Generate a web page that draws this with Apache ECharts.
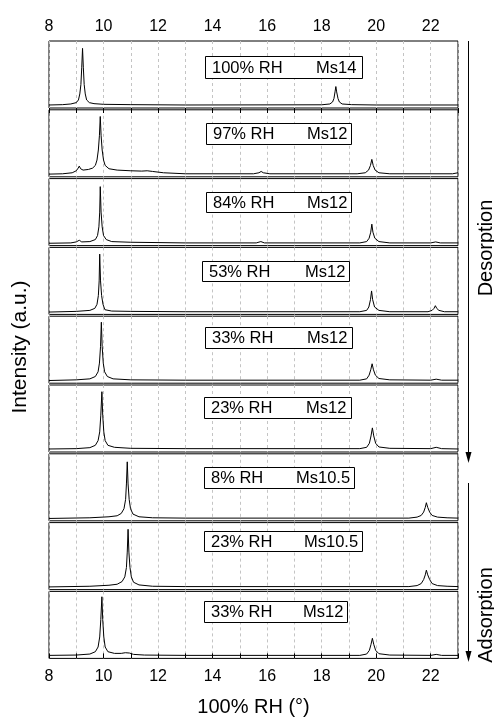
<!DOCTYPE html>
<html>
<head>
<meta charset="utf-8">
<script src="https://cdn.jsdelivr.net/npm/echarts@6/dist/echarts.min.js"></script>
<style>
  html, body { margin: 0; padding: 0; background: #fff; }
  #chart { width: 494px; height: 718px; }
</style>
</head>
<body>
<div id="chart"></div>
<script>
// panel labels, top to bottom
var rhLabels = ['100% RH', '97% RH', '84% RH', '53% RH', '33% RH', '23% RH', '8% RH', '23% RH', '33% RH'];
var msLabels = ['Ms14', 'Ms12', 'Ms12', 'Ms12', 'Ms12', 'Ms12', 'Ms10.5', 'Ms10.5', 'Ms12'];
var xTickLabels = [8, 10, 12, 14, 16, 18, 20, 22];

// traces: [2theta, intensity (0-100 of panel height)]
var p100 = [[8, 4.5], [8.5, 5], [8.8, 6], [9.0, 8], [9.08, 12], [9.13, 21], [9.17, 35], [9.2, 60], [9.23, 89], [9.26, 60], [9.29, 35], [9.33, 21], [9.38, 12], [9.48, 8], [9.65, 6.5], [10, 5.5], [11, 5], [13, 4.5], [18.0, 4.8], [18.3, 6], [18.4, 9], [18.45, 14], [18.49, 24], [18.52, 32], [18.55, 24], [18.6, 14], [18.65, 9], [18.75, 6], [19.1, 5], [20, 4.5], [23, 4.5]];
var p97 = [[8, 4], [8.5, 4.5], [8.85, 6], [9.0, 9], [9.07, 13], [9.11, 16], [9.16, 12], [9.25, 10], [9.45, 11], [9.6, 13], [9.7, 17], [9.76, 25], [9.81, 40], [9.85, 62], [9.88, 90], [9.91, 62], [9.95, 40], [10.0, 25], [10.06, 17], [10.2, 12], [10.5, 10], [11.0, 9], [11.4, 8.5], [11.6, 9], [11.8, 8], [12.2, 6], [13, 4.5], [15.5, 4.5], [15.7, 6], [15.78, 8], [15.86, 6], [16.1, 4.5], [19.3, 4.5], [19.6, 6], [19.72, 10], [19.79, 17], [19.84, 26], [19.89, 17], [19.96, 10], [20.1, 6], [20.5, 4.5], [22.8, 4.5], [23, 6]];
var p84 = [[8, 3.5], [8.8, 4], [9.0, 5.5], [9.11, 8], [9.2, 5.5], [9.5, 6], [9.7, 9], [9.78, 15], [9.83, 28], [9.86, 50], [9.88, 88], [9.91, 50], [9.95, 28], [10.0, 15], [10.1, 9], [10.3, 6], [11, 5], [13, 4], [15.6, 4], [15.77, 6], [15.9, 4], [19.4, 4], [19.65, 6], [19.74, 11], [19.8, 20], [19.84, 32], [19.88, 20], [19.95, 11], [20.1, 6], [20.5, 4], [22.0, 4], [22.18, 5.5], [22.35, 4], [23, 4]];
var p53 = [[8, 3.5], [9, 4.5], [9.5, 6], [9.68, 9], [9.76, 15], [9.81, 28], [9.84, 50], [9.86, 90], [9.89, 50], [9.93, 28], [9.98, 15], [10.05, 7], [10.3, 5], [11, 4.5], [13, 4], [19.4, 4], [19.65, 6], [19.73, 11], [19.79, 22], [19.83, 35], [19.87, 22], [19.94, 11], [20.1, 6], [20.5, 4], [21.9, 4], [22.05, 6], [22.12, 9], [22.17, 13], [22.22, 9], [22.3, 6], [22.5, 4], [23, 4]];
var p33a = [[8, 4], [9, 5], [9.5, 6.5], [9.7, 10], [9.8, 17], [9.85, 30], [9.89, 55], [9.92, 91], [9.95, 55], [9.99, 30], [10.04, 17], [10.14, 10], [10.35, 6.5], [11, 5], [13, 4.5], [19.4, 4.5], [19.65, 6.5], [19.74, 12], [19.8, 20], [19.85, 29], [19.9, 20], [19.97, 12], [20.1, 7], [20.5, 5], [22.0, 4.5], [22.2, 6], [22.4, 4.5], [23, 4.5]];
var p23a = [[8, 4.5], [9, 5], [9.5, 6.5], [9.7, 10], [9.8, 17], [9.86, 30], [9.9, 55], [9.94, 90], [9.97, 55], [10.01, 30], [10.06, 17], [10.16, 10], [10.4, 7], [11, 5.5], [13, 5], [19.4, 5], [19.65, 7], [19.75, 13], [19.81, 24], [19.86, 36], [19.91, 24], [19.98, 13], [20.1, 7.5], [20.5, 5.5], [22.0, 5], [22.2, 7], [22.4, 5], [23, 4.5]];
var p8 = [[8, 3.5], [9.5, 4.5], [10.2, 6], [10.5, 7.5], [10.65, 11], [10.75, 18], [10.81, 32], [10.84, 55], [10.87, 88], [10.9, 55], [10.94, 32], [10.99, 18], [11.08, 10], [11.3, 6], [11.8, 4.5], [13, 4], [21.2, 4], [21.5, 5.5], [21.65, 8], [21.74, 13], [21.8, 20], [21.84, 27], [21.89, 20], [21.96, 13], [22.05, 8], [22.25, 5.5], [22.6, 4.5], [23, 4]];
var p23b = [[8, 4], [9.5, 5], [10.2, 6.5], [10.5, 8], [10.68, 12], [10.78, 19], [10.84, 33], [10.87, 56], [10.9, 90], [10.93, 56], [10.97, 33], [11.02, 19], [11.1, 11], [11.3, 7], [11.8, 5], [13, 4.5], [21.2, 4.5], [21.5, 6], [21.65, 9], [21.74, 15], [21.8, 22], [21.84, 29], [21.89, 22], [21.96, 15], [22.05, 9], [22.25, 6], [22.6, 5], [23, 4.5]];
var p33b = [[8, 4.5], [9, 5], [9.5, 6.5], [9.7, 10], [9.8, 17], [9.86, 32], [9.9, 58], [9.94, 92], [9.97, 58], [10.01, 32], [10.06, 17], [10.16, 10], [10.4, 7.5], [10.65, 7.5], [10.8, 8.5], [10.86, 9.5], [10.95, 8], [11.1, 6], [11.5, 5], [13, 4.5], [19.4, 4.5], [19.65, 6.5], [19.75, 12], [19.81, 21], [19.86, 30], [19.91, 21], [19.98, 12], [20.1, 7], [20.5, 5], [22.0, 4.5], [22.2, 6], [22.4, 4.5], [23, 4.5]];

var traces = [p100, p97, p84, p53, p33a, p23a, p8, p23b, p33b];

// layout
var panelTop = 41, panelStep = 68.8, panelH = 67;
var plotLeft = 49, plotW = 409;
var FONT = '"Liberation Sans", Arial, sans-serif';
// label boxes: left, right, top, bottom, x of Ms text
var boxes = [
  [205, 362, 56, 78, 316],
  [206, 351, 123, 144, 307],
  [206, 351, 192, 212, 307],
  [202, 349, 261, 281, 305],
  [205, 352, 327, 348, 307],
  [204, 351, 397, 418, 306],
  [204, 354, 467, 488, 296],
  [204, 362, 531, 551, 304],
  [204, 347, 601, 622, 303]
];

var grids = [], xAxes = [], yAxes = [], series = [], graphics = [];
var last = traces.length - 1;

traces.forEach(function(tr, i) {
  var edge = (i === 0 || i === last);
  grids.push({
    left: plotLeft, width: plotW,
    top: panelTop + i * panelStep, height: panelH,
    show: true, borderColor: '#000', borderWidth: 1,
    outerBoundsMode: 'none'
  });
  xAxes.push({
    gridIndex: i, type: 'value', min: 8, max: 23, interval: 1,
    position: i === 0 ? 'top' : 'bottom',
    axisLine: { show: false },
    axisTick: { show: edge, inside: true, length: 5, lineStyle: { color: '#000' } },
    axisLabel: {
      show: edge, color: '#000', fontSize: 16, fontFamily: FONT, margin: i === 0 ? 6 : 10,
      formatter: function(v) { return xTickLabels.indexOf(v) >= 0 ? String(v) : ''; }
    },
    splitLine: { show: true, lineStyle: { color: '#c4c4c4', type: [3, 3], width: 1 } },
    name: i === last ? '100% RH (°)' : '',
    nameLocation: 'middle', nameGap: 39,
    nameTextStyle: { color: '#000', fontSize: 20, fontFamily: FONT }
  });
  yAxes.push({ gridIndex: i, type: 'value', min: 0, max: 100, show: false });
  series.push({
    type: 'line', xAxisIndex: i, yAxisIndex: i, data: tr,
    showSymbol: false, silent: true,
    lineStyle: { color: '#000', width: 1 }
  });

  var b = boxes[i];
  graphics.push({
    type: 'rect', z: 100,
    shape: { x: b[0] + 0.5, y: b[2] + 0.5, width: b[1] - b[0], height: b[3] - b[2] },
    style: { fill: '#fff', stroke: '#000', lineWidth: 1 }
  });
  graphics.push({
    type: 'text', z: 101, x: b[0] + 7, y: (b[2] + b[3]) / 2 + 1,
    style: { text: rhLabels[i], fill: '#000', font: '16.5px ' + FONT, verticalAlign: 'middle' }
  });
  graphics.push({
    type: 'text', z: 101, x: b[4], y: (b[2] + b[3]) / 2 + 1,
    style: { text: msLabels[i], fill: '#000', font: '16.5px ' + FONT, verticalAlign: 'middle' }
  });
});

// y title
graphics.push({
  type: 'text', x: 20, y: 347, rotation: Math.PI / 2,
  style: { text: 'Intensity (a.u.)', fill: '#000', font: '21px ' + FONT, align: 'center', verticalAlign: 'middle' }
});
// desorption / adsorption arrows
graphics.push({ type: 'line', shape: { x1: 468.5, y1: 41, x2: 468.5, y2: 455 }, style: { stroke: '#000', lineWidth: 1 } });
graphics.push({ type: 'polygon', shape: { points: [[465.5, 452], [471.5, 452], [468.5, 463]] }, style: { fill: '#000' } });
graphics.push({ type: 'line', shape: { x1: 468.5, y1: 483, x2: 468.5, y2: 653 }, style: { stroke: '#000', lineWidth: 1 } });
graphics.push({ type: 'polygon', shape: { points: [[465.5, 651], [471.5, 651], [468.5, 662]] }, style: { fill: '#000' } });
graphics.push({
  type: 'text', x: 486, y: 248, rotation: Math.PI / 2,
  style: { text: 'Desorption', fill: '#000', font: '20px ' + FONT, align: 'center', verticalAlign: 'middle' }
});
graphics.push({
  type: 'text', x: 486, y: 615, rotation: Math.PI / 2,
  style: { text: 'Adsorption', fill: '#000', font: '20px ' + FONT, align: 'center', verticalAlign: 'middle' }
});

var chart = echarts.init(document.getElementById('chart'));
chart.setOption({
  animation: false,
  backgroundColor: '#fff',
  grid: grids,
  xAxis: xAxes,
  yAxis: yAxes,
  series: series,
  graphic: graphics
});
</script>
</body>
</html>
